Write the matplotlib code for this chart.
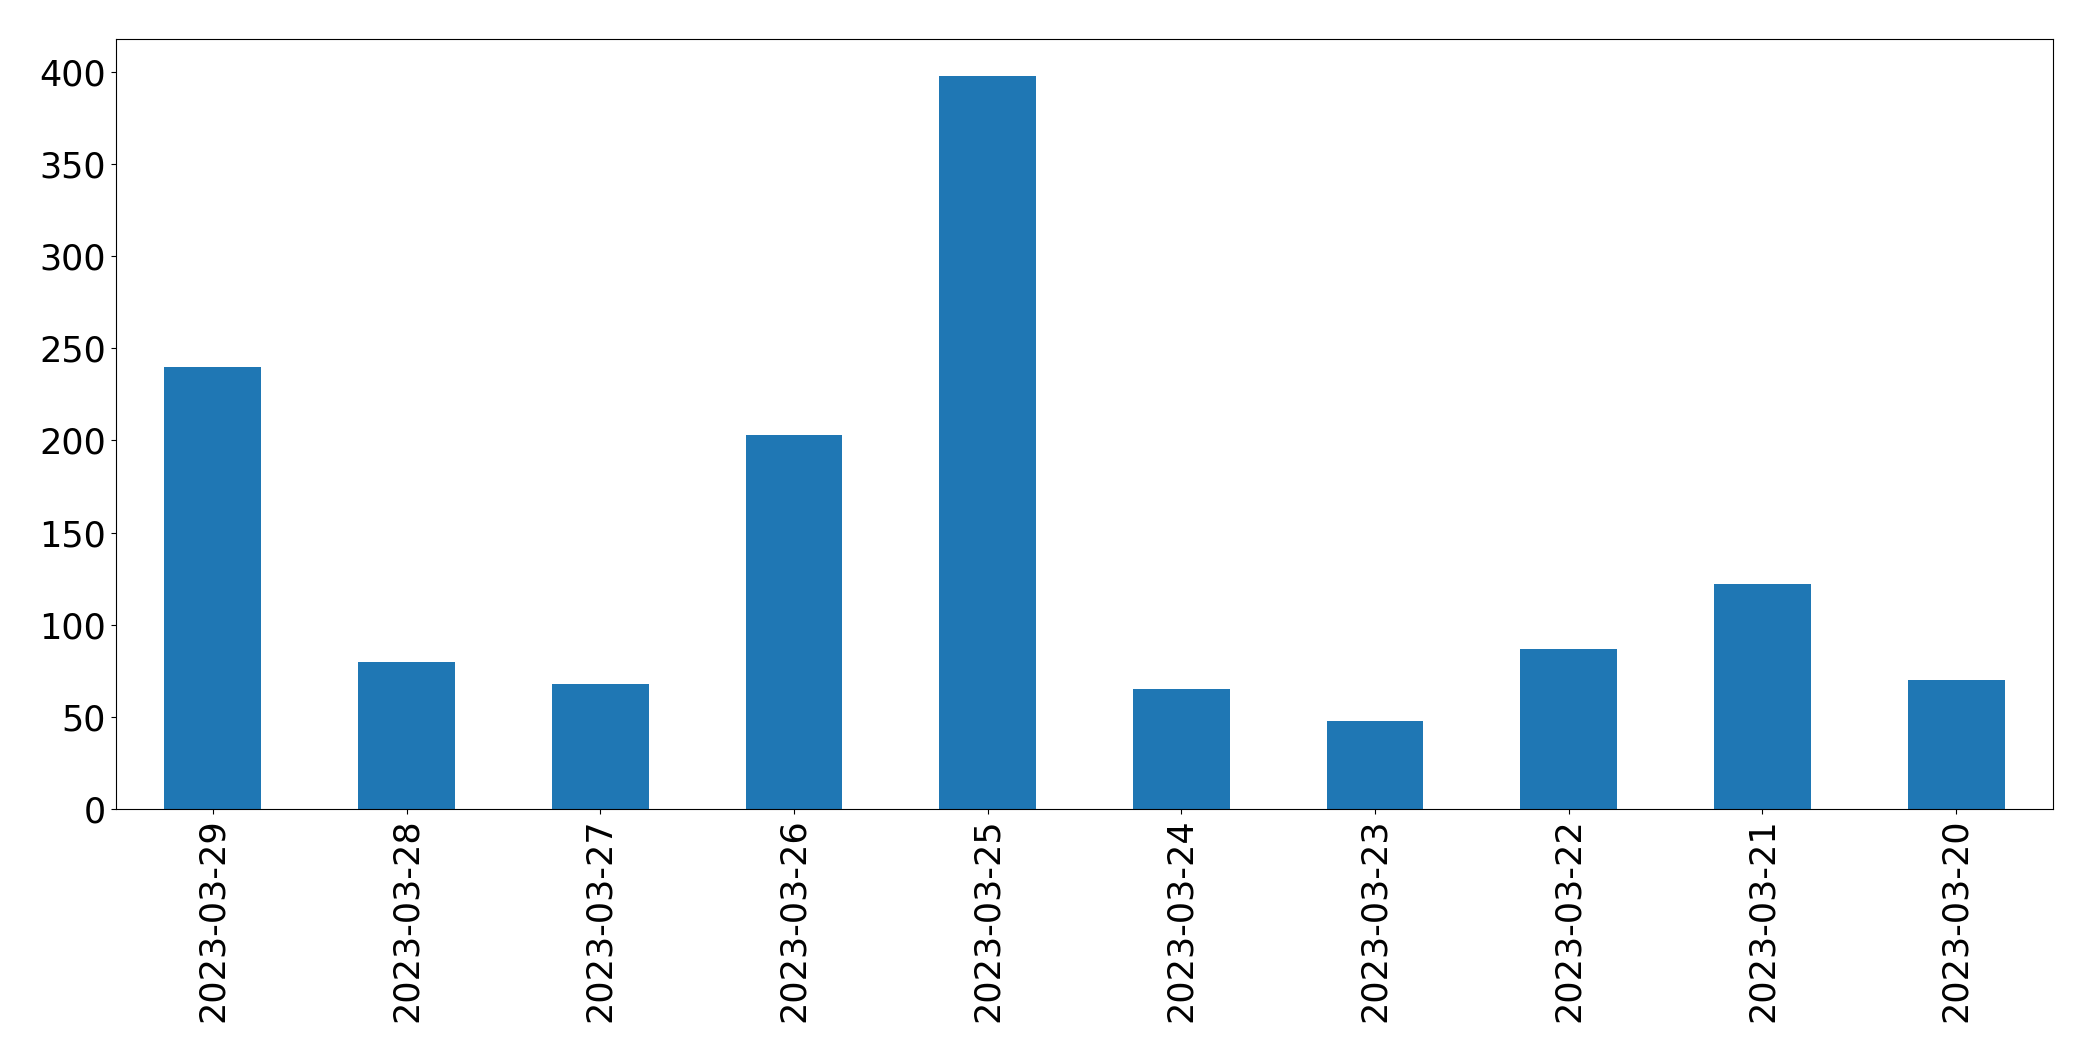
import matplotlib
matplotlib.use('Agg')
import matplotlib.pyplot as plt

# daily counts, newest first (as in the source chart)
datas = ['2023-03-29', '2023-03-28', '2023-03-27', '2023-03-26', '2023-03-25',
         '2023-03-24', '2023-03-23', '2023-03-22', '2023-03-21', '2023-03-20']
valores = [240, 80, 68, 203, 398, 65, 48, 87, 122, 70]

fig = plt.figure(figsize=(20.93, 10.61), dpi=100)
ax = fig.add_axes([116 / 2093, 1 - 809 / 1061, (2053 - 116) / 2093, (809 - 39) / 1061])

posicoes = range(len(datas))
ax.bar(posicoes, valores, width=0.5, color='#1f77b4')
ax.set_xlim(-0.5, len(datas) - 0.5)
ax.set_xticks(list(posicoes))
ax.set_xticklabels(datas, rotation=90)
ax.tick_params(axis='both', labelsize=25.2)

fig.savefig('out.png', dpi=100)
